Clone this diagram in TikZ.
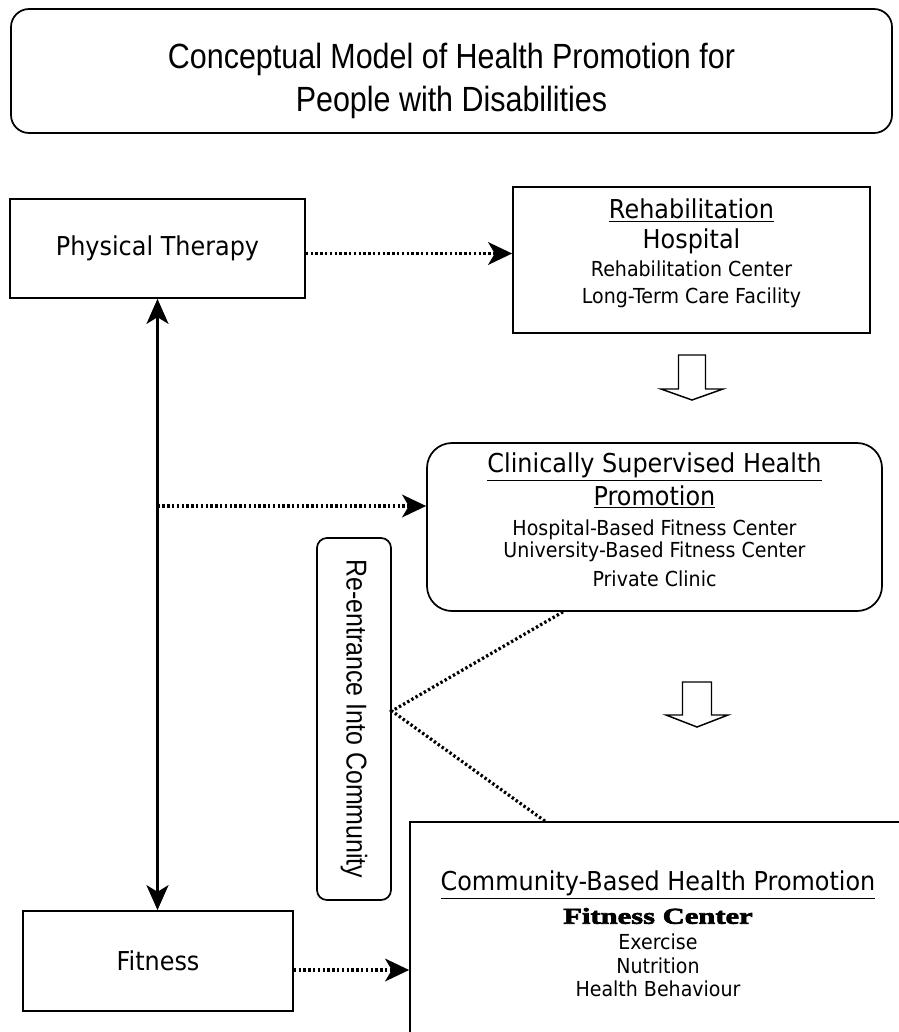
\documentclass[tikz,border=0pt]{standalone}
\usepackage{fontspec}
\usepackage{tikz}
\usetikzlibrary{arrows.meta,calc}
\setmainfont{DejaVu Sans}[FakeStretch=0.92]
\newfontfamily\narrowSans[FakeStretch=0.87]{Liberation Sans}
\newfontfamily\posterSerif[FakeStretch=1.35,FakeBold=3]{Liberation Serif}
\newcommand{\pxu}{0.75pt}
\newcommand{\headLine}{\fontsize{19.5pt}{20.25pt}\selectfont}
\newcommand{\smallLine}{\fontsize{15.5pt}{20.25pt}\selectfont}
\tikzstyle{plainBox}=[shape = rectangle, draw, line width = 1.3pt, inner sep = 0pt, align = center]
\tikzstyle{listBox}=[plainBox, font = \smallLine]
\tikzstyle{dottedLink}=[line width = 2.4pt, dash pattern = on 1.8pt off 1.8pt]
\tikzstyle{solidLink}=[line width = 1.9pt]
\tikzstyle{blockArrow}=[line width = 1.1pt]
\tikzstyle{bigTip}=[-{Stealth[length = 18pt, width = 17pt, inset = 5pt]}]

\begin{document}
\begin{tikzpicture}[x = 0.75pt, y = -0.75pt]
\useasboundingbox (0,0) rectangle (899,1032);
\clip (0,0) rectangle (899,1032);
\node[plainBox, rounded corners = 13.5pt, minimum width = 881*\pxu, minimum height = 124*\pxu, font = \narrowSans\fontsize{26.25pt}{32pt}\selectfont] (title) at (451.5,71) {\rule{0pt}{34pt}Conceptual Model of Health Promotion for\\People with Disabilities};
\node[plainBox, minimum width = 295*\pxu, minimum height = 99*\pxu, font = \headLine] (physTherapy) at (157.5,248.5) {Physical Therapy};
\node[listBox, minimum width = 357*\pxu, minimum height = 146*\pxu] (rehab) at (691.5,260) {\headLine\underline{Rehabilitation}\\[2.25pt]\headLine Hospital\\[0.75pt]\smallLine Rehabilitation Center\\\smallLine Long-Term Care Facility\rule[-13pt]{0pt}{13pt}};
\node[listBox, rounded corners = 18.75pt, minimum width = 455*\pxu, minimum height = 168*\pxu] (clinical) at (654.5,527) {\headLine\underline{Clinically Supervised Health}\\[2.25pt]\headLine\underline{Promotion}\\[2.25pt]\smallLine Hospital-Based Fitness Center\\[-3.75pt]\smallLine University-Based Fitness Center\\[1.5pt]\smallLine Private Clinic\rule[-11pt]{0pt}{11pt}};
\node[plainBox, rounded corners = 7.5pt, rotate = -90, minimum width = 362*\pxu, minimum height = 74*\pxu, font = \narrowSans\fontsize{21.5pt}{24pt}\selectfont] (reentry) at (354,719) {Re-entrance Into Community};
\node[listBox, minimum width = 496*\pxu, minimum height = 224*\pxu] (community) at (658,934) {\headLine\underline{Community-Based Health Promotion}\\[4.5pt]{\posterSerif\bfseries\fontsize{17pt}{20.25pt}\selectfont Fitness Center}\\[-0.75pt]\smallLine Exercise\\[-2.25pt]\smallLine Nutrition\\[-3pt]\smallLine Health Behaviour};
\node[plainBox, minimum width = 270*\pxu, minimum height = 100*\pxu, font = \headLine] (fitness) at (158,961) {Fitness};
\coordinate (split) at (157.5,506);
\coordinate (stepOne) at (692,355);
\coordinate (stepTwo) at (697,682);
\draw[dottedLink, bigTip] ($(physTherapy.east)+(0,5)$) -- ($(rehab.west |- physTherapy.east)+(0,5)$);
\draw[solidLink, {Stealth[length = 18.75pt, width = 16.5pt, inset = 5pt]}-{Stealth[length = 18.75pt, width = 16.5pt, inset = 5pt]}] (physTherapy.south) -- (physTherapy.south |- fitness.north);
\draw[dottedLink, bigTip] (split) -- (clinical.west |- split);
\draw[dottedLink, bigTip] ($(fitness.east)+(0,9)$) -- ($(community.west |- fitness.east)+(0,9)$);
\draw[dottedLink] ($(clinical.south)+(-91.5,0)$) -- ($(reentry.north)+(0,-8)$) -- ($(community.north)+(-113,0)$);
\draw[blockArrow] (stepOne) ++(-13.5,0) -- ++(0,34) -- ++(-17.5,0) -- ++(31,11) -- ++(31,-11) -- ++(-17.5,0) -- ++(0,-34) -- cycle;
\draw[blockArrow] (stepTwo) ++(-14.5,0) -- ++(0,33) -- ++(-16.5,0) -- ++(31,12) -- ++(31,-12) -- ++(-16.5,0) -- ++(0,-33) -- cycle;
\end{tikzpicture}
\end{document}
